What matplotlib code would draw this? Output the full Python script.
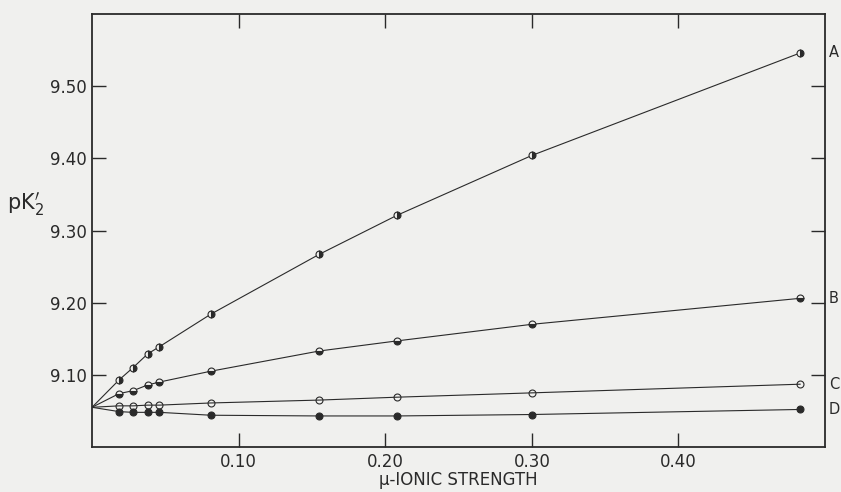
import matplotlib
matplotlib.use("Agg")
import matplotlib.pyplot as plt
from matplotlib.ticker import FormatStrFormatter

# ionic strength values (first point is the common intercept)
mu = [0.0, 0.0185, 0.028, 0.038, 0.046, 0.081, 0.155, 0.208, 0.300, 0.483]

# pK'2 for the four curves
pk_a = [9.055, 9.093, 9.110, 9.129, 9.139, 9.184, 9.267, 9.321, 9.404, 9.546]
pk_b = [9.055, 9.074, 9.078, 9.086, 9.090, 9.105, 9.133, 9.147, 9.170, 9.206]
pk_c = [9.055, 9.057, 9.057, 9.058, 9.058, 9.061, 9.065, 9.069, 9.075, 9.087]
pk_d = [9.055, 9.049, 9.048, 9.048, 9.048, 9.044, 9.043, 9.043, 9.045, 9.052]

curve_names = ["A", "B", "C", "D"]
x_ticks = [0.10, 0.20, 0.30, 0.40]
y_ticks = [9.10, 9.20, 9.30, 9.40, 9.50]


def main():
    bg = "#f0f0ee"
    ink = "#2a2a2a"
    fig = plt.figure(figsize=(8.41, 4.92), dpi=100, facecolor=bg)
    ax = fig.add_axes([0.1094, 0.0915, 0.8716, 0.88])
    ax.set_facecolor(bg)

    series = [pk_a, pk_b, pk_c, pk_d]
    fills = ["right", "bottom", "none", "full"]
    for name, vals, fs in zip(curve_names, series, fills):
        # line starts at the intercept, markers only on measured points
        ax.plot(mu, vals, color=ink, lw=0.8, zorder=2)
        ax.plot(mu[1:], vals[1:], linestyle="none", marker="o", markersize=5,
                fillstyle=fs, markerfacecolor=ink, markerfacecoloralt=bg,
                markeredgecolor=ink, markeredgewidth=0.8, zorder=3)
        ax.text(0.5025, vals[-1], name, fontsize=10.5, color=ink,
                va="center", ha="left", clip_on=False)

    ax.set_xlim(0, 0.50)
    ax.set_ylim(9.00, 9.60)
    ax.set_xticks(x_ticks)
    ax.set_yticks(y_ticks)
    ax.xaxis.set_major_formatter(FormatStrFormatter("%.2f"))
    ax.yaxis.set_major_formatter(FormatStrFormatter("%.2f"))
    ax.tick_params(direction="in", length=10, width=1.0, colors=ink,
                   labelsize=12, top=True, right=True, pad=4)
    for sp in ax.spines.values():
        sp.set_linewidth(1.3)
        sp.set_color(ink)

    ax.set_xlabel("\u03bc-IONIC STRENGTH", fontsize=12, color=ink, labelpad=0)
    fig.text(0.008, 0.585, r"pK$^{\prime}_{2}$", fontsize=15, color=ink,
             ha="left", va="center")

    fig.savefig("out.png", dpi=100, facecolor=bg)


if __name__ == "__main__":
    main()
